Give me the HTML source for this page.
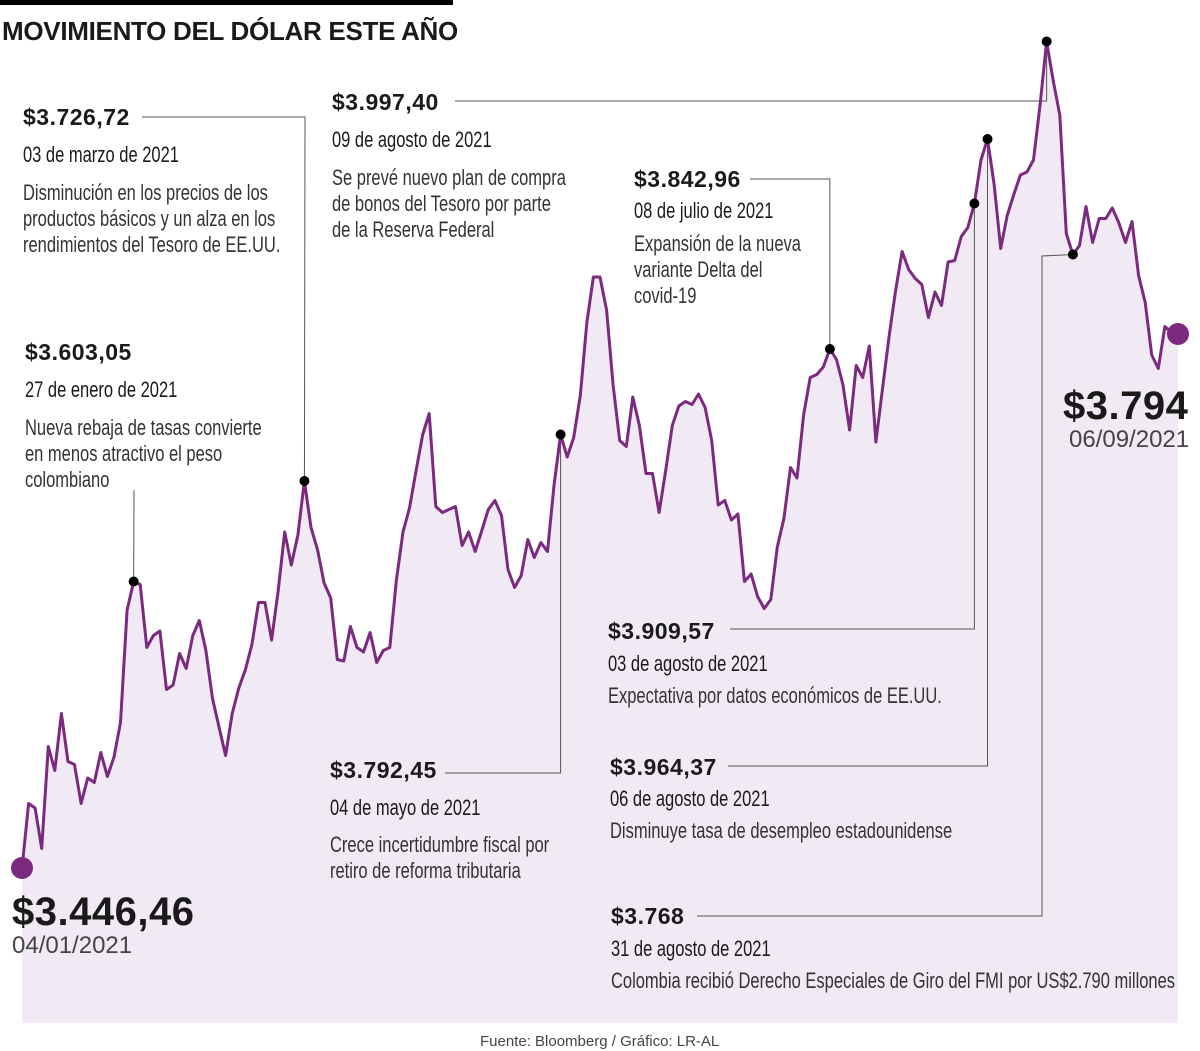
<!DOCTYPE html>
<html><head><meta charset="utf-8">
<style>
body{margin:0;width:1200px;height:1051px;background:#fff;position:relative;overflow:hidden;font-family:"Liberation Sans",sans-serif;color:#1a1a1a}
.abs{position:absolute;white-space:nowrap}
.val{font-weight:bold;font-size:23px;line-height:24px;letter-spacing:0.5px}
.nar{transform-origin:0 0;transform:scaleX(0.75);font-size:22px;line-height:26px}
.desc{color:#333}
svg{position:absolute;left:0;top:0}
</style></head><body>
<div class="abs" style="left:0;top:0;width:453px;height:5px;background:#000"></div>
<div class="abs" style="left:2px;top:16px;font-size:26px;font-weight:bold;letter-spacing:-0.3px">MOVIMIENTO DEL DÓLAR ESTE AÑO</div>
<svg id="chart" width="1200" height="1051"></svg>

<div class="abs val" style="left:23px;top:105px">$3.726,72</div>
<div class="abs nar" style="left:23px;top:142px">03 de marzo de 2021</div>
<div class="abs nar desc" style="left:23px;top:180px">Disminución en los precios de los<br>productos básicos y un alza en los<br>rendimientos del Tesoro de EE.UU.</div>

<div class="abs val" style="left:25px;top:340px">$3.603,05</div>
<div class="abs nar" style="left:25px;top:377px">27 de enero de 2021</div>
<div class="abs nar desc" style="left:25px;top:415px">Nueva rebaja de tasas convierte<br>en menos atractivo el peso<br>colombiano</div>

<div class="abs val" style="left:332px;top:90px">$3.997,40</div>
<div class="abs nar" style="left:332px;top:127px">09 de agosto de 2021</div>
<div class="abs nar desc" style="left:332px;top:165px">Se prevé nuevo plan de compra<br>de bonos del Tesoro por parte<br>de la Reserva Federal</div>

<div class="abs val" style="left:634px;top:167px">$3.842,96</div>
<div class="abs nar" style="left:634px;top:198px">08 de julio de 2021</div>
<div class="abs nar desc" style="left:634px;top:231px">Expansión de la nueva<br>variante Delta del<br>covid-19</div>

<div class="abs val" style="left:330px;top:758px">$3.792,45</div>
<div class="abs nar" style="left:330px;top:795px">04 de mayo de 2021</div>
<div class="abs nar desc" style="left:330px;top:832px">Crece incertidumbre fiscal por<br>retiro de reforma tributaria</div>

<div class="abs val" style="left:608px;top:619px">$3.909,57</div>
<div class="abs nar" style="left:608px;top:651px">03 de agosto de 2021</div>
<div class="abs nar desc" style="left:608px;top:683px">Expectativa por datos económicos de EE.UU.</div>

<div class="abs val" style="left:610px;top:755px">$3.964,37</div>
<div class="abs nar" style="left:610px;top:786px">06 de agosto de 2021</div>
<div class="abs nar desc" style="left:610px;top:818px">Disminuye tasa de desempleo estadounidense</div>

<div class="abs val" style="left:611px;top:904px">$3.768</div>
<div class="abs nar" style="left:611px;top:936px">31 de agosto de 2021</div>
<div class="abs nar desc" style="left:611px;top:968px">Colombia recibió Derecho Especiales de Giro del FMI por US$2.790 millones</div>

<div class="abs" style="left:12px;top:890px;font-size:40px;font-weight:bold;letter-spacing:0.5px">$3.446,46</div>
<div class="abs" style="left:12px;top:932px;font-size:24px;color:#444">04/01/2021</div>
<div class="abs" style="left:1063px;top:384px;font-size:40px;font-weight:bold;letter-spacing:0.5px">$3.794</div>
<div class="abs" style="left:1069px;top:426px;font-size:24px;color:#444">06/09/2021</div>
<div class="abs" style="left:480px;top:1033px;font-size:15px;color:#444">Fuente: Bloomberg / Gráfico: LR-AL</div>

<script>
const values=[3446,3489,3486,3459,3527,3511,3549,3517,3515,3489,3506,3503,3523,3507,3520,3543,3618,3637,3635,3593,3601,3604,3565,3568,3589,3579,3601,3611,3591,3559,3540,3521,3549,3566,3578,3595,3623,3623,3598,3631,3670,3648,3668,3704,3673,3658,3636,3626,3585,3584,3607,3593,3590,3603,3583,3591,3593,3638,3670,3686,3711,3735,3749,3687,3683,3685,3687,3661,3670,3657,3671,3685,3691,3681,3645,3633,3641,3665,3653,3663,3657,3701,3735,3720,3733,3761,3810,3840,3840,3818,3768,3731,3727,3760,3741,3709,3709,3683,3711,3741,3754,3757,3755,3762,3753,3731,3688,3691,3678,3682,3637,3642,3627,3619,3625,3660,3679,3713,3706,3748,3773,3775,3780,3792,3785,3768,3738,3781,3773,3794,3730,3765,3800,3831,3857,3845,3839,3835,3813,3830,3821,3850,3851,3867,3873,3889,3918,3932,3902,3859,3881,3895,3908,3910,3918,3955,3997,3971,3948,3869,3855,3861,3887,3863,3879,3879,3886,3876,3863,3877,3841,3823,3788,3779,3807,3803,3802];
const markIdx=[17,43,82,123,145,147,156,160];
const X0=22,X1=1178,YB=868,VB=3446,K=1.5,BOTTOM=1023;
function xs(i){return X0+(X1-X0)*i/(values.length-1);}
function ys(v){return YB-(v-VB)*K;}
const NS="http://www.w3.org/2000/svg";
const svg=document.getElementById('chart');
function mk(t,a){const e=document.createElementNS(NS,t);for(const k in a)e.setAttribute(k,a[k]);svg.appendChild(e);return e;}
let d=values.map((v,i)=>(i?'L':'M')+xs(i).toFixed(1)+' '+ys(v).toFixed(1)).join(' ');
const area=mk('path',{d:d+' L'+X1+' '+BOTTOM+' L'+X0+' '+BOTTOM+' Z',fill:'#f1e9f3'});


const P=i=>[xs(i),ys(values[i])];
const leaders=[
 [[142,117],[305,117],P(43)],
 [[455,101],[P(156)[0],101],P(156)],
 [[750,179],[P(123)[0],179],P(123)],
 [[134,490],P(17)],
 [[445,773],[P(82)[0],773],P(82)],
 [[730,629],[P(145)[0],629],P(145)],
 [[728,766],[P(147)[0],766],P(147)],
 [[697,916],[1042,916],[1042,256],P(160)]
];
leaders.forEach(pts=>{
 const l=mk('polyline',{points:pts.map(p=>p.join(',')).join(' '),fill:'none',stroke:'#555','stroke-width':1});
 
 
});
const line=mk('path',{d:d,fill:'none',stroke:'#7b2a80','stroke-width':3,'stroke-linejoin':'round'});


markIdx.forEach(i=>{
 const c=mk('circle',{cx:xs(i),cy:ys(values[i]),r:5,fill:'#000'});
 
 
});
[0,values.length-1].forEach(i=>{
 const c=mk('circle',{cx:xs(i),cy:ys(values[i]),r:11,fill:'#7b2a80'});
 
 
});
</script>
</body></html>
